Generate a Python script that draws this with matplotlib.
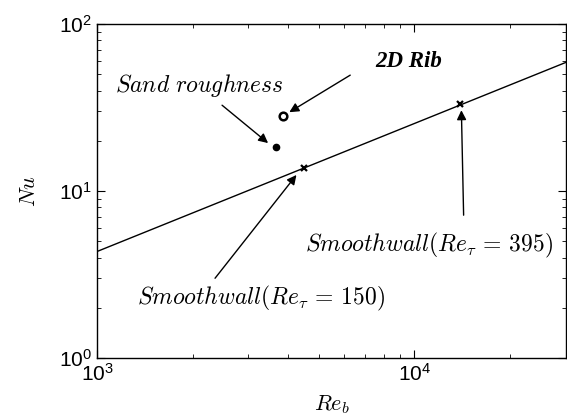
import numpy as np
from matplotlib import pyplot as plt

plt.rcParams['font.family'] = 'Liberation Sans'
plt.rcParams['mathtext.fontset'] = 'cm'

# correlation line for smooth wall
re_line = [1e3, 3e4]
nu_line = [4.35, 59.0]
# DNS smooth wall cases
re_smooth = [4500, 13870]
nu_smooth = [13.7, 33.2]
# rough wall cases
re_sand, nu_sand = 3670, 18.3
re_rib, nu_rib = 3860, 28.1

fh = plt.figure(figsize=(5.67, 4.16), dpi=100)
ah = fh.add_axes([0.171, 0.139, 0.827, 0.803])
ah.set_xscale('log')
ah.set_yscale('log')

ah.plot(re_line, nu_line, color='black', lw=1.0)
ah.plot(re_smooth, nu_smooth, ls='none', marker='x', ms=4, mew=1.6, color='black')
ah.plot(re_sand, nu_sand, ls='none', marker='o', ms=4.5, color='black')
ah.plot(re_rib, nu_rib, ls='none', marker='o', ms=5.5, mfc='white', mec='black', mew=1.8)

ah.set_xlim(1e3, 3e4)
ah.set_ylim(1, 100)
ah.tick_params(which='both', direction='in', top=True, right=True, labelsize=15)
ah.tick_params(which='major', length=6)
ah.tick_params(which='minor', length=3)
for sp in ah.spines.values():
    sp.set_linewidth(1.0)

ah.set_xlabel(r'$Re_b$', fontsize=16, labelpad=6)
ah.set_ylabel(r'$Nu$', fontsize=16, labelpad=14)

arr = dict(arrowstyle='-|>', color='black', lw=1.0, mutation_scale=14, shrinkA=0, shrinkB=0)

# labels
ah.text(2098, 43.1, r'$Sand\ roughness$', fontsize=17, ha='center', va='center')
ah.text(7535, 60, '2D Rib', fontsize=16.5, ha='left', va='center',
        family='Liberation Serif', style='italic', weight='bold')
ah.text(11100, 4.75, r'$Smoothwall(Re_\tau\,=\,\mathit{395})$', fontsize=17, ha='center', va='center')
ah.text(3290, 2.29, r'$Smoothwall(Re_\tau\,=\,150)$', fontsize=17, ha='center', va='center')

# arrows
ah.annotate('', xy=(3460, 19.4), xytext=(2478, 32.7), arrowprops=arr)
ah.annotate('', xy=(4036, 29.7), xytext=(6278, 49.5), arrowprops=arr)
ah.annotate('', xy=(14060, 30.5), xytext=(14290, 7.18), arrowprops=arr)
ah.annotate('', xy=(4250, 12.5), xytext=(2355, 3.01), arrowprops=arr)

plt.savefig('out.png', dpi=100)
